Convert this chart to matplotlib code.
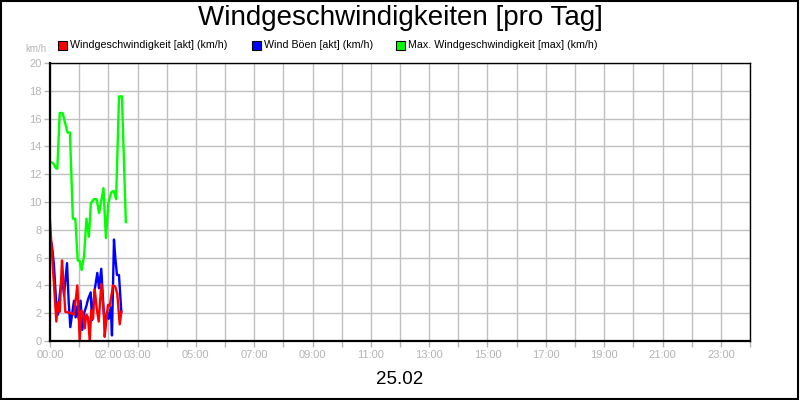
import matplotlib
matplotlib.use("Agg")
import matplotlib.pyplot as plt
from matplotlib.patches import Rectangle
import numpy as np

plt.rcParams['font.family'] = ['Liberation Sans', 'DejaVu Sans']

title = "Windgeschwindigkeiten [pro Tag]"
date_label = "25.02"
unit_label = "km/h"
series_names = ["Windgeschwindigkeit [akt] (km/h)",
                "Wind Böen [akt] (km/h)",
                "Max. Windgeschwindigkeit [max] (km/h)"]
series_colors = ["#ff0000", "#0000ff", "#00ff00"]

# minutes after midnight, km/h
red_min = [0, 13, 16.5, 20, 24.7, 27, 31.5, 37, 43.8, 49.4, 56.2, 59, 61, 64.4, 67.9,
           71.4, 74.7, 78.2, 81.7, 85, 88.5, 92, 96.7, 100.2, 105.5, 110.5, 112.5,
           115.8, 119.3, 122.8, 129.6, 134.3, 138.4, 143.4, 146.7]
red_val = [8.6, 1.4, 2.8, 2.1, 5.8, 4.6, 2.1, 2.05, 2.0, 1.9, 4.0, 2.1, 0.0, 2.2, 2.0,
           0.9, 1.9, 1.7, 0.0, 2.2, 1.6, 3.7, 2.2, 1.4, 4.1, 2.1, 0.3,
           1.5, 2.6, 2.5, 4.0, 3.9, 3.4, 1.2, 2.1]

blue_min = [0, 4, 8, 13, 16.5, 20, 24.7, 28.8, 35, 38.5, 41.8, 45.3, 49.4, 52.7, 56.2,
            59, 63, 66.4, 70, 74.7, 78.2, 83.7, 86.4, 92, 97.3, 100.8, 105.5, 110.5,
            113.7, 117.2, 120.7, 124.9, 127.5, 131.6, 134.3, 137.8, 141.9, 146.7]
blue_val = [7.4, 6.9, 5.5, 2.6, 1.9, 3.3, 4.7, 3.3, 5.6, 2.8, 1.0, 1.9, 2.9, 1.7, 2.5,
            1.6, 2.9, 0.8, 2.0, 2.5, 3.0, 3.5, 1.5, 3.7, 4.9, 3.8, 5.2, 2.1,
            1.0, 2.1, 1.6, 2.4, 0.4, 7.3, 6.0, 4.75, 4.75, 2.1]

green_min = [0, 6, 13, 15, 20, 26, 36, 41, 47, 52, 57, 61, 65, 70, 75, 80, 84, 90, 96,
             101, 110, 115, 120, 126, 131, 136, 142, 148, 156]
green_val = [12.9, 12.8, 12.4, 12.4, 16.4, 16.4, 15.0, 15.0, 8.8, 8.8, 5.8, 5.75, 5.1,
             6.1, 8.8, 7.5, 9.9, 10.2, 10.2, 9.2, 11.0, 7.4, 9.9, 10.7, 10.8, 10.2,
             17.6, 17.6, 8.55]

tick_hours = list(range(0, 25))
label_hours = [0, 2, 3, 5, 7, 9, 11, 13, 15, 17, 19, 21, 23]
y_ticks = list(range(0, 21, 2))

W, H = 800, 400
fig = plt.figure(figsize=(8, 4), dpi=100)
fig.patch.set_facecolor("white")

ax = fig.add_axes([50 / W, (H - 341) / H, 700 / W, 278 / H])
ax.set_xlim(0, 24)
ax.set_ylim(0, 20)

gray = "#b4b4b4"
ax.set_xticks(tick_hours)
ax.set_xticklabels([f"{h:02d}:00" if h in label_hours else "" for h in tick_hours])
ax.set_yticks(y_ticks)
ax.set_yticklabels([str(v) for v in y_ticks])
ax.tick_params(axis="both", colors=gray, labelcolor=gray, labelsize=8, length=4, width=1)
ax.tick_params(axis="y", pad=2)
ax.tick_params(axis="x", pad=2.5)
ax.grid(True, color="#c0c0c0", linewidth=1)
ax.set_axisbelow(True)
for s in ["top", "right"]:
    ax.spines[s].set_linewidth(1)
    ax.spines[s].set_color("black")
for s in ["left", "bottom"]:
    ax.spines[s].set_linewidth(1.6)
    ax.spines[s].set_color("black")

ax.plot(np.array(green_min) / 60, green_val, color=series_colors[2], lw=1.7, clip_on=True)
ax.plot(np.array(blue_min) / 60, blue_val, color=series_colors[1], lw=1.7, clip_on=True)
ax.plot(np.array(red_min) / 60, red_val, color=series_colors[0], lw=1.7, clip_on=True)

fig.text(400 / W, 1 - 18 / H, title, ha="center", va="center", fontsize=20, color="black")
fig.text(400 / W, 1 - 380 / H, date_label, ha="center", va="center", fontsize=13.5, color="black")
fig.text(36 / W, 1 - 49 / H, unit_label, ha="center", va="center", fontsize=7, color=gray)

# legend
leg_x = [58, 252, 396]
for x0, name, c in zip(leg_x, series_names, series_colors):
    fig.patches.append(Rectangle((x0 / W, 1 - 50 / H), 9 / W, 9 / H, transform=fig.transFigure,
                                 facecolor=c, edgecolor="black", linewidth=0.8))
    fig.text((x0 + 12) / W, 1 - 45.5 / H, name, ha="left", va="center", fontsize=7.7, color="black")

# outer border
fig.patches.append(Rectangle((1 / W, 1.5 / H), 797 / W, 397.5 / H, transform=fig.transFigure,
                             fill=False, edgecolor="black", linewidth=1.5))

fig.savefig("out.png", dpi=100, facecolor="white")
